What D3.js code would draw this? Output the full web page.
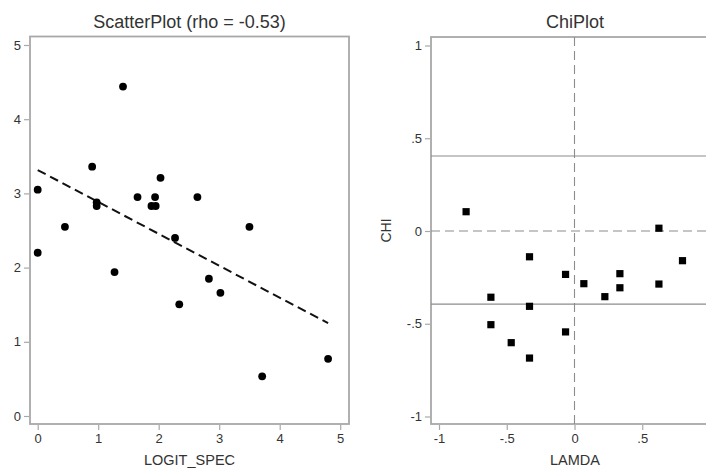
<!DOCTYPE html>
<html><head><meta charset="utf-8">
<script src="https://cdn.jsdelivr.net/npm/d3@7"></script>
<style>body{margin:0;background:#fff}svg{display:block}text{font-family:"Liberation Sans",Arial,sans-serif}</style>
</head><body>
<script>
// Scatter plot data (LOGIT_SPEC vs y)
const scatterX = [0, 0.45, 0.90, 0.975, 0.975, 1.41, 1.65, 1.94, 1.88, 1.95, 2.03, 2.64, 3.50, 2.27, 0, 1.27, 2.34, 2.83, 3.02, 3.71, 4.80];
const scatterY = [3.05, 2.55, 3.36, 2.88, 2.83, 4.44, 2.95, 2.95, 2.83, 2.83, 3.21, 2.95, 2.55, 2.40, 2.20, 1.94, 1.505, 1.85, 1.66, 0.535, 0.77];
const fitLine = {x0: 0, x1: 4.8, intercept: 3.315, slope: -0.43};
const scatterXTicks = [0, 1, 2, 3, 4, 5];
const scatterYTicks = [0, 1, 2, 3, 4, 5];

// Chi plot data
const lamda = [-0.80, 0.623, -0.332, -0.066, 0.069, 0.335, 0.335, 0.224, 0.623, 0.797, -0.617, -0.332, -0.617, -0.467, -0.332, -0.066];
const chi   = [0.104, 0.015, -0.139, -0.234, -0.284, -0.230, -0.306, -0.354, -0.286, -0.160, -0.357, -0.406, -0.505, -0.602, -0.685, -0.544];
const chiBounds = [0.404, -0.394];
const chiXTicks = [-1, -0.5, 0, 0.5];
const chiYTicks = [-1, -0.5, 0, 0.5, 1];

const W = 706, H = 468;
const svg = d3.select("body").append("svg").attr("width", W).attr("height", H);
const frameColor = "#a8a8a8";
const fmt = v => { if (v === 0) return "0"; if (Math.abs(v) === 1) return String(v); return (v < 0 ? "-" : "") + String(Math.abs(v)).replace(/^0/, ""); };

function panel(opt) {
  const g = svg.append("g");
  const {x, y, left, right, top, bottom} = opt;
  g.append("rect").attr("x", left).attr("y", top).attr("width", right - left).attr("height", bottom - top)
    .attr("fill", "none").attr("stroke", frameColor).attr("stroke-width", 1.8);
  const ya = g.append("g").attr("transform", `translate(${left - 1},0)`)
    .call(d3.axisLeft(y).tickValues(opt.yTicks).tickSize(5).tickPadding(3).tickFormat(opt.fmt));
  ya.select(".domain").remove();
  ya.selectAll("line").attr("stroke", frameColor).attr("stroke-width", 1.2);
  ya.selectAll("text").attr("font-size", 13).attr("fill", "#333");
  const xa = g.append("g").attr("transform", `translate(0,${bottom + 1})`)
    .call(d3.axisBottom(x).tickValues(opt.xTicks).tickSize(5).tickPadding(4).tickFormat(opt.fmt));
  xa.select(".domain").remove();
  xa.selectAll("line").attr("stroke", frameColor).attr("stroke-width", 1.2);
  xa.selectAll("text").attr("font-size", 13).attr("fill", "#333");
  g.append("text").attr("x", (left + right) / 2).attr("y", 28).attr("text-anchor", "middle")
    .attr("font-size", 18).attr("fill", "#333").text(opt.title);
  g.append("text").attr("x", (left + right) / 2).attr("y", 465).attr("text-anchor", "middle")
    .attr("font-size", 14.5).attr("fill", "#333").text(opt.xlabel);
  if (opt.ylabel) {
    g.append("text").attr("transform", `translate(${opt.ylabelX},${(top + bottom) / 2}) rotate(-90)`)
      .attr("text-anchor", "middle").attr("font-size", 14).attr("fill", "#333").text(opt.ylabel);
  }
  return g;
}

// Left panel
const lx = d3.scaleLinear().domain([0, 5]).range([37.7, 340.2]);
const ly = d3.scaleLinear().domain([0, 5]).range([416, 45]);
const gl = panel({x: lx, y: ly, left: 30, right: 349, top: 36.5, bottom: 424, xTicks: scatterXTicks, yTicks: scatterYTicks,
  fmt: d => String(d), title: "ScatterPlot (rho = -0.53)", xlabel: "LOGIT_SPEC"});
gl.append("line")
  .attr("x1", lx(fitLine.x0)).attr("y1", ly(fitLine.intercept + fitLine.slope * fitLine.x0))
  .attr("x2", lx(fitLine.x1)).attr("y2", ly(fitLine.intercept + fitLine.slope * fitLine.x1))
  .attr("stroke", "#111").attr("stroke-width", 2).attr("stroke-dasharray", "9,5");
gl.selectAll("circle.pt").data(scatterX.map((d, i) => [d, scatterY[i]])).join("circle")
  .attr("cx", d => lx(d[0])).attr("cy", d => ly(d[1])).attr("r", 3.9).attr("fill", "#000");

// Right panel
const rx = d3.scaleLinear().domain([-1, 1]).range([439, 710]);
const ry = d3.scaleLinear().domain([-1, 1]).range([416.5, 45.5]);
const gr = panel({x: rx, y: ry, left: 431, right: 719, top: 37, bottom: 424, xTicks: chiXTicks, yTicks: chiYTicks,
  fmt: fmt, title: "ChiPlot", xlabel: "LAMDA", ylabel: "CHI", ylabelX: 391});
chiBounds.forEach(b => {
  gr.append("line").attr("x1", 431).attr("x2", 719).attr("y1", ry(b)).attr("y2", ry(b))
    .attr("stroke", "#8c8c8c").attr("stroke-width", 1.1);
});
gr.append("line").attr("x1", 431).attr("x2", 719).attr("y1", ry(0)).attr("y2", ry(0))
  .attr("stroke", "#8c8c8c").attr("stroke-width", 1.1).attr("stroke-dasharray", "9,5");
gr.append("line").attr("x1", rx(0)).attr("x2", rx(0)).attr("y1", 37).attr("y2", 424)
  .attr("stroke", "#8c8c8c").attr("stroke-width", 1.1).attr("stroke-dasharray", "9,5");
gr.selectAll("rect.pt").data(lamda.map((d, i) => [d, chi[i]])).join("rect").attr("class", "pt")
  .attr("x", d => rx(d[0]) - 3.6).attr("y", d => ry(d[1]) - 3.6).attr("width", 7.2).attr("height", 7.2).attr("fill", "#000");
</script>
</body></html>
